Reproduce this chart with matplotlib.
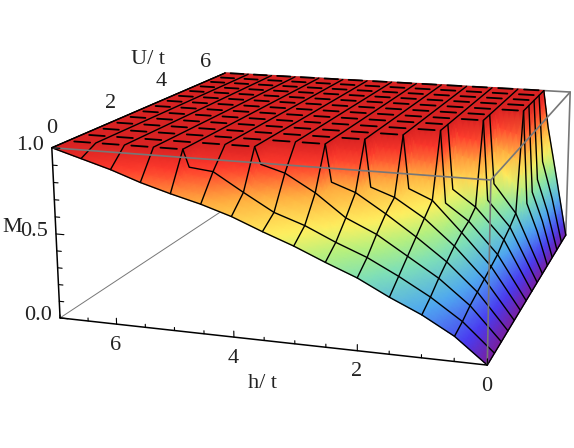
import numpy as np
import matplotlib
matplotlib.use("Agg")
import matplotlib.pyplot as plt
from matplotlib.colors import LinearSegmentedColormap

# Each U row: h knots, M reaches 1 at the last knot and stays there
U_vals = [0, 0.5, 1, 1.5, 2, 2.5, 3, 3.5, 4, 4.5, 5, 5.5, 6, 6.5, 7]
h_U00 = [0, .5, 1, 1.5, 2, 2.5, 3, 3.5, 4, 4.5, 5, 5.5, 6, 6.5, 7]
M_U00 = [0, .14, .24, .32, .41, .48, .555, .62, .69, .745, .79, .84, .90, .95, 1]
h_U05 = [0, .5, 1, 1.5, 2, 2.5, 3, 3.5, 4, 4.5, 4.9, 5]
M_U05 = [0, .16, .28, .38, .47, .54, .62, .68, .78, .885, .90, 1]
h_U10 = [0, .5, 1, 1.5, 2, 2.5, 3, 3.5, 3.9, 4]
M_U10 = [0, .19, .33, .44, .55, .63, .76, .86, .90, 1]
h_U15 = [0, .5, 1, 1.5, 2, 2.5, 2.9, 3]
M_U15 = [0, .21, .37, .50, .62, .73, .78, 1]
h_U20 = [0, .5, 1, 1.5, 2, 2.4, 2.5]
M_U20 = [0, .23, .41, .56, .67, .72, 1]
h_U25 = [0, .5, 1, 1.5, 1.9, 2]
M_U25 = [0, .25, .44, .62, .68, 1]
h_U30 = [0, .5, 1, 1.4, 1.5]
M_U30 = [0, .27, .46, .56, 1]
h_U35 = [0, .5, 1, 1.4, 1.5]
M_U35 = [0, .31, .50, .60, 1]
h_U40 = [0, .5, .9, 1]
M_U40 = [0, .34, .50, 1]
h_U45 = [0, .5, .9, 1]
M_U45 = [0, .38, .56, 1]
h_U50 = [0, .2, .4, .5]
M_U50 = [0, .22, .40, 1]
h_U55 = [0, .2, .4, .5]
M_U55 = [0, .24, .43, 1]
h_U60 = [0, .2, .4, .5]
M_U60 = [0, .26, .47, 1]
h_U65 = [0, .2, .4, .5]
M_U65 = [0, .30, .55, 1]
h_U70 = [0, .2, .4, .5]
M_U70 = [0, .38, .75, 1]

h_rows = [h_U00, h_U05, h_U10, h_U15, h_U20, h_U25, h_U30, h_U35, h_U40, h_U45, h_U50,
          h_U55, h_U60, h_U65, h_U70]
M_rows = [M_U00, M_U05, M_U10, M_U15, M_U20, M_U25, M_U30, M_U35, M_U40, M_U45, M_U50,
          M_U55, M_U60, M_U65, M_U70]

h_mesh = [0, .5, 1, 1.5, 2, 2.5, 3, 3.5, 4, 4.5, 5, 5.5, 6, 6.5, 7]
h_ticks = [0, 2, 4, 6]
U_ticks = [0, 2, 4, 6]
M_ticks = [0.0, 0.5, 1.0]

# camera matrix fitted to the box corners
cam = np.array([[-60.23173, 36.35781, -10.51273, 487.28429],
                [-2.51618, -8.11718, -190.22676, 365.09569],
                [0.0133, 0.04446, -0.02865, 1.0]])


def project(h, U, M):
    h, U, M = np.asarray(h, float), np.asarray(U, float), np.asarray(M, float)
    q = cam[:, 0:3] @ np.array([h.ravel(), U.ravel(), M.ravel()]) + cam[:, 3:]
    return (q[0] / q[2]).reshape(h.shape), (q[1] / q[2]).reshape(h.shape)


def line3(ax, hs, Us, Ms, **kw):
    x, y = project(hs, Us, Ms)
    ax.plot(x, y, solid_capstyle="round", **kw)


plt.rcParams["font.family"] = ["Liberation Serif", "DejaVu Serif"]
rainbow = LinearSegmentedColormap.from_list("rainbow_m", [
    (0.0, "#7a1fa0"), (0.1, "#4a3cf0"), (0.25, "#4fa8f0"), (0.4, "#7fe0b8"),
    (0.5, "#b4f080"), (0.6, "#fff060"), (0.75, "#ffb040"), (0.9, "#ff3a2c"),
    (1.0, "#d82222")])

fig = plt.figure(figsize=(5.74, 4.48), dpi=100)
ax = fig.add_axes([0, 0, 1, 1])
ax.set_xlim(0, 574)
ax.set_ylim(448, 0)
ax.axis("off")

hmax, Umax = h_mesh[-1], U_vals[-1]
grey = "#777777"

# back of the box, under the surface
line3(ax, [hmax, hmax], [0, Umax], [0, 0], color=grey, lw=0.7, zorder=0.5)
line3(ax, [0, 0, hmax], [Umax, Umax, Umax], [0, 1, 1], color=grey, lw=1.2, zorder=0.5)
line3(ax, [hmax, hmax], [Umax, Umax], [0, 1], color=grey, lw=0.7, zorder=0.5)
line3(ax, [0, 0], [0, Umax], [0, 0], color=grey, lw=0.7, zorder=0.5)

# shading grid: the knots of all rows, each cell split so the colours follow the rainbow
knots = np.unique(np.concatenate(h_rows))
h_fine = np.unique(np.concatenate([np.linspace(a, b, 5) for a, b in zip(knots[:-1], knots[1:])]))
U_fine = np.unique(np.concatenate([np.linspace(a, b, 5) for a, b in zip(U_vals[:-1], U_vals[1:])]))
M_coarse = np.array([np.interp(h_fine, hr, mr) for hr, mr in zip(h_rows, M_rows)])
M_fine = np.array([np.interp(U_fine, U_vals, M_coarse[:, k]) for k in range(len(h_fine))]).T

# surface, far cells first
H, U = np.meshgrid(h_fine, U_fine)
X, Y = project(H, U, M_fine)
ax.pcolormesh(X[::-1, ::-1], Y[::-1, ::-1], M_fine[::-1, ::-1], shading="gouraud", cmap=rainbow,
              vmin=0, vmax=1, rasterized=True, zorder=1)

# mesh lines of constant h
for hv in h_mesh:
    col = [np.interp(hv, hr, mr) for hr, mr in zip(h_rows, M_rows)]
    line3(ax, [hv] * len(U_vals), U_vals, col, color="black", lw=1.0)

# constant U lines: solid below the plateau, broken dashes on it
for Uv, hr, mr in zip(U_vals, h_rows, M_rows):
    line3(ax, hr, [Uv] * len(hr), mr, color="black", lw=1.0)
    for hv in h_mesh[:-1]:
        if hv >= hr[-1]:
            line3(ax, [hv + 0.1, hv + 0.38], [Uv, Uv], [1, 1], color="black", lw=1.3)

# front of the box, drawn over the surface
line3(ax, [hmax, 0, 0], [0, 0, Umax], [1, 1, 1], color=grey, lw=1.2)
line3(ax, [0, 0], [0, 0], [0, 1], color=grey, lw=1.2)

# axes with ticks
line3(ax, [hmax, 0], [0, 0], [0, 0], color="black", lw=1.1)
line3(ax, [hmax, hmax], [0, 0], [0, 1], color="black", lw=1.1)
line3(ax, [hmax, hmax], [0, Umax], [1, 1], color="black", lw=0.9)

for hv in h_mesh:
    ln = 0.035 if hv in h_ticks else 0.018
    line3(ax, [hv, hv], [0, 0], [0, ln], color="black", lw=0.8)
for mv in np.arange(0, 1.01, 0.1):
    ln = 0.14 if round(mv, 1) in M_ticks else 0.08
    line3(ax, [hmax, hmax - ln], [0, 0], [mv, mv], color="black", lw=0.8)

# tick labels and axis labels
fs = 16
txt = "#222222"
for hv in h_ticks:
    x, y = project(hv, 0, 0)
    ax.annotate(str(hv), (float(x), float(y)), xytext=(-1, -21), textcoords="offset pixels",
                ha="center", va="center", fontsize=fs, color=txt)
for mv in M_ticks:
    x, y = project(hmax, 0, mv)
    ax.annotate("%.1f" % mv, (float(x), float(y)), xytext=(-22, 2), textcoords="offset pixels",
                ha="center", va="center", fontsize=fs, color=txt)
for uv in U_ticks:
    x, y = project(hmax, uv, 1)
    ax.annotate(str(uv), (float(x), float(y)), xytext=(0, 19), textcoords="offset pixels",
                ha="center", va="center", fontsize=fs, color=txt)

ax.text(262, 384, "h/ t", ha="center", va="center", fontsize=fs, color=txt)
ax.text(148, 59, "U/ t", ha="center", va="center", fontsize=fs, color=txt)
ax.text(12, 228, "M", ha="center", va="center", fontsize=fs, color=txt)

fig.savefig("out.png", dpi=100)
